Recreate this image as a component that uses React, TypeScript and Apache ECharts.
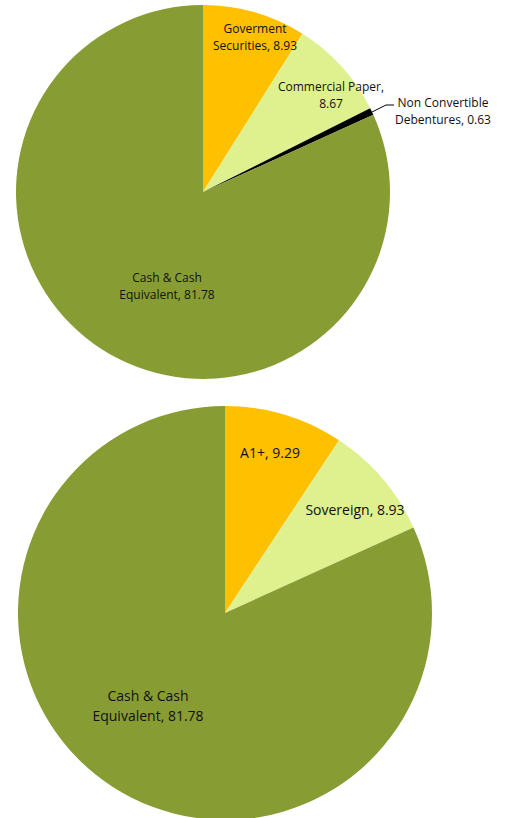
import React, { useEffect, useRef } from "react";
import * as echarts from "echarts";

const topCategories = ["Goverment Securities", "Commercial Paper", "Non Convertible Debentures", "Cash & Cash Equivalent"];
const topValues = [8.93, 8.67, 0.63, 81.78];
const topLabels = ["Goverment\nSecurities, 8.93", "Commercial Paper,\n8.67", "Non Convertible\nDebentures, 0.63", "Cash & Cash\nEquivalent, 81.78"];

const bottomCategories = ["A1+", "Sovereign", "Cash & Cash Equivalent"];
const bottomValues = [9.29, 8.93, 81.78];
const bottomLabels = ["A1+, 9.29", "Sovereign, 8.93", "Cash & Cash\nEquivalent, 81.78"];

const topColors = ["#FFC000", "#DFF08F", "#000000", "#879D33"];
const bottomColors = ["#FFC000", "#DFF08F", "#879D33"];

// label anchor positions (layout only)
const topLabelPos = [
  [255, 37],
  [331, 95],
  [443, 111],
  [167, 286],
];
const bottomLabelPos = [
  [270, 452],
  [355, 509],
  [148, 705],
];

export default function App() {
  const ref = useRef<HTMLDivElement>(null);
  useEffect(() => {
    if (!ref.current) return;
    const chart = echarts.init(ref.current, null, { renderer: "svg" });
    const font = "'Open Sans', 'Noto Sans', sans-serif";
    chart.setOption({
      animation: false,
      backgroundColor: "#ffffff",
      series: [
        {
          type: "pie",
          center: [203, 192],
          radius: [0, 187],
          startAngle: 90,
          clockwise: true,
          silent: true,
          itemStyle: { borderWidth: 0 },
          data: topCategories.map((name, i) => ({
            name,
            value: topValues[i],
            itemStyle: { color: topColors[i] },
            label: {
              show: true,
              position: i === 2 ? "outside" : "inside",
              formatter: topLabels[i],
              color: "#111111",
              fontFamily: font,
              fontSize: 12,
              lineHeight: 17,
              align: "center",
              overflow: "none",
            },
            labelLine: {
              show: i === 2,
              lineStyle: { color: "#000", width: 1 },
            },
          })),
          labelLayout: (p: any) => {
            const pos = topLabelPos[p.dataIndex];
            const res: any = { x: pos[0], y: pos[1], align: "center", verticalAlign: "middle" };
            if (p.dataIndex === 2) {
              res.labelLinePoints = [
                [372, 112],
                [386, 105],
                [394, 105],
              ];
            }
            return res;
          },
        },
        {
          type: "pie",
          center: [225, 613],
          radius: [0, 207],
          startAngle: 90,
          clockwise: true,
          silent: true,
          itemStyle: { borderWidth: 0 },
          data: bottomCategories.map((name, i) => ({
            name,
            value: bottomValues[i],
            itemStyle: { color: bottomColors[i] },
            label: {
              show: true,
              position: "inside",
              formatter: bottomLabels[i],
              color: "#111111",
              fontFamily: font,
              fontSize: 14,
              lineHeight: 20,
              align: "center",
              overflow: "none",
            },
            labelLine: { show: false },
          })),
          labelLayout: (p: any) => {
            const pos = bottomLabelPos[p.dataIndex];
            return { x: pos[0], y: pos[1], align: "center", verticalAlign: "middle" };
          },
        },
      ],
    });
    return () => chart.dispose();
  }, []);
  return (
    <div
      ref={ref}
      style={{ position: "fixed", left: 0, top: 0, width: 505, height: 818 }}
    />
  );
}
